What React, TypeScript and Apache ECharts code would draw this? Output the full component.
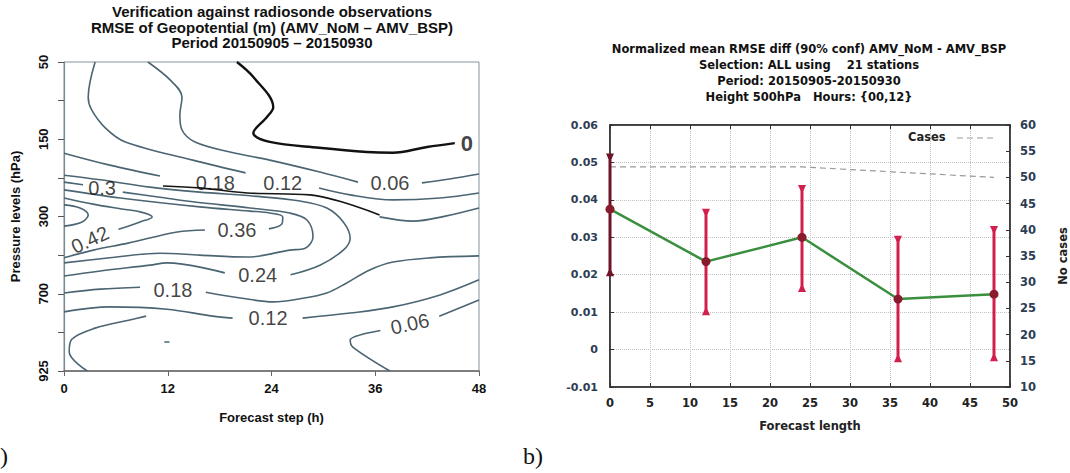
import React, { useEffect, useRef } from 'react';
import * as echarts from 'echarts';

// ---------- Left panel: contour lines (x = forecast step h, y = level index 0..8) ----------
const stepTicks = [0, 12, 24, 36, 48];
const pressureTicks = ['50', '150', '300', '700', '925'];

const c000 = [
  [[20.0, 0], [21.9, 0.39], [24.2, 1.17], [23.5, 1.42], [21.9, 1.84], [23.8, 2.07], [29.5, 2.22], [35.0, 2.33], [38.0, 2.35], [42.0, 2.2], [45.2, 2.1]],
];
const c006 = [
  [[9.7, 0], [12.3, 0.47], [13.65, 0.91], [13.4, 1.37], [13.65, 1.76], [15.15, 2.07], [19.2, 2.33], [23.8, 2.54], [29.6, 2.85], [34.0, 3.11]],
  [[41.4, 3.13], [44.6, 3.03], [48, 2.9]],
  [[2.7, 8], [0.6, 7.51], [0.9, 7.18], [3.6, 6.89], [7.6, 6.68], [9.5, 6.58]],
  [[37.7, 8], [33.4, 7.38], [33.1, 7.2], [36.6, 6.95]],
  [[43.4, 6.58], [48, 6.16]],
  [[11.6, 7.25], [12.2, 7.25]],
];
const c012 = [
  [[3.6, 0], [2.8, 0.91], [3.2, 1.24], [4.8, 1.71], [7.1, 2.07], [14.9, 2.54], [21.0, 2.87]],
  [[29.5, 3.26], [33.1, 3.44], [38.05, 3.57], [43.5, 3.52], [48, 3.39]],
  [[0, 6.47], [5.3, 6.34], [11.9, 6.4], [17.2, 6.58], [19.5, 6.63]],
  [[27.6, 6.63], [33.1, 6.5], [38.05, 6.34], [43.5, 6.03], [48, 5.64]],
];
const c018 = [
  [[0, 2.36], [5.3, 2.67], [11.1, 2.95]],
  [[36.5, 4.01], [40.4, 4.12], [44.1, 3.99], [48, 3.78]],
  [[0, 5.98], [4.2, 5.88], [8.8, 5.83]],
  [[16.4, 5.96], [20.4, 6.11], [24.2, 6.21], [27.3, 6.13], [30.4, 5.98], [32.7, 5.72], [35.3, 5.39], [38.05, 5.18], [42.3, 5.07], [48, 5.02]],
];
const c018Dark = [
  [[11.45, 3.21], [15.7, 3.26], [21.2, 3.39], [28.45, 3.44], [36.5, 3.96]],
];
const c024 = [
  [[0, 2.93], [4.2, 3.05], [9.95, 3.24], [15.7, 3.37], [21.8, 3.47], [27.3, 3.6], [30.4, 3.78], [32.3, 4.14], [33.1, 4.56], [32.3, 4.87], [29.6, 5.26], [26.2, 5.51]],
  [[18.6, 5.46], [11.9, 5.2], [9.95, 5.26], [4.2, 5.41], [0, 5.54]],
];
const c030 = [
  [[0, 3.11], [2.2, 3.18]],
  [[6.8, 3.37], [11.1, 3.5], [14.9, 3.62], [21.5, 3.78], [26.1, 3.91], [28.1, 4.09], [28.8, 4.53], [27.9, 4.82], [26.1, 4.87], [21.2, 5.05], [15.7, 5.0], [11.1, 4.95], [5.3, 5.07], [0, 5.2]],
];
const c036 = [
  [[0, 3.31], [6.5, 3.52], [15.7, 3.75], [21.5, 3.86], [23.8, 3.91], [25.3, 4.01], [25.2, 4.19], [23.7, 4.32]],
  [[16.3, 4.35], [13.1, 4.4], [7.4, 4.69], [3.4, 4.87], [0, 5.07]],
];
const c042 = [
  [[0, 3.52], [3.35, 3.68], [6.5, 3.8], [8.8, 3.88], [10.2, 4.01], [8.8, 4.14], [6.3, 4.33]],
];
const c048 = [
  [[0, 3.7], [1.85, 3.78], [2.8, 3.96], [2.1, 4.14], [0, 4.25]],
];

const contourLabelText = ['0', '0.06', '0.12', '0.18', '0.3', '0.36', '0.42', '0.24', '0.18', '0.12', '0.06'];
const contourLabelX = [46.6, 37.7, 25.3, 17.5, 4.4, 20.0, 3.0, 22.4, 12.6, 23.6, 40.0];
const contourLabelY = [2.1, 3.13, 3.13, 3.13, 3.26, 4.35, 4.6, 5.51, 5.9, 6.63, 6.78];

// ---------- Right panel ----------
const lengthTicks = [0, 5, 10, 15, 20, 25, 30, 35, 40, 45, 50];
const forecastLength = [0, 12, 24, 36, 48];
const rmseDiff = [0.0375, 0.0235, 0.03, 0.0135, 0.0148];
const ciLow = [0.02, 0.0096, 0.0158, -0.003, -0.0027];
const ciHigh = [0.052, 0.0372, 0.0436, 0.03, 0.0326];
const cases = [52, 52, 52, 51, 50];

const leftTitle = 'Verification against radiosonde observations\nRMSE of Geopotential (m) (AMV_NoM \u2013 AMV_BSP)\nPeriod 20150905 \u2013 20150930';
const rightTitle = 'Normalized mean RMSE diff (90% conf) AMV_NoM - AMV_BSP\nSelection: ALL using    21 stations\nPeriod: 20150905-20150930\nHeight 500hPa   Hours: {00,12}';

const CONTOUR = '#4b6573';
const SANS = '"Liberation Sans", Arial, sans-serif';
const DJ = '"DejaVu Sans", sans-serif';
const NAVY = '#2d3d54';

function contourSeries(segs: number[][][], color: string, width: number) {
  return segs.map((seg) => ({
    type: 'line',
    xAxisIndex: 0,
    yAxisIndex: 0,
    data: seg,
    symbol: 'none',
    showSymbol: false,
    smooth: 0.35,
    silent: true,
    lineStyle: { color, width },
    z: 3,
  }));
}

export default function App() {
  const ref = useRef<HTMLDivElement>(null);
  useEffect(() => {
    document.body.style.margin = '0';
    const chart = echarts.init(ref.current!, null, { renderer: 'svg' });
    const rot: Record<number, number> = { 6: 25, 10: 12 };
    const option: any = {
      animation: false,
      backgroundColor: '#fff',
      grid: [
        { left: 64, top: 62, width: 415, height: 309, show: true, borderColor: '#8494a0', borderWidth: 1 },
        { left: 610, top: 125, width: 400, height: 262, show: true, borderColor: '#333', borderWidth: 1.5 },
      ],
      xAxis: [
        {
          gridIndex: 0, type: 'value', min: 0, max: 48, interval: 12,
          axisLine: { show: true, onZero: false, lineStyle: { color: '#666', width: 1.5 } },
          axisTick: { show: true, length: 5, lineStyle: { color: '#666' } },
          axisLabel: { color: '#111', fontSize: 13, fontWeight: 'bold', fontFamily: SANS, margin: 11,
            formatter: (v: number) => (stepTicks.includes(v) ? String(v) : '') },
          splitLine: { show: false },
          name: 'Forecast step (h)', nameLocation: 'middle', nameGap: 40,
          nameTextStyle: { color: '#111', fontSize: 13, fontWeight: 'bold', fontFamily: SANS },
        },
        {
          gridIndex: 1, type: 'value', min: 0, max: 50, interval: 5,
          axisLine: { show: true, onZero: false, lineStyle: { color: '#333', width: 1.5 } },
          axisTick: { show: true, inside: true, length: 4, lineStyle: { color: '#333' } },
          axisLabel: { color: '#222', fontSize: 11.5, fontWeight: 'bold', fontFamily: DJ, margin: 10,
            formatter: (v: number) => (lengthTicks.includes(v) ? String(v) : '') },
          splitLine: { show: true, lineStyle: { type: 'dotted', color: '#c2c2c2' } },
          name: 'Forecast length', nameLocation: 'middle', nameGap: 33,
          nameTextStyle: { color: '#222', fontSize: 11.5, fontWeight: 'bold', fontFamily: DJ },
        },
        {
          gridIndex: 1, type: 'value', position: 'top', min: 0, max: 50, interval: 5,
          axisLine: { show: true, onZero: false, lineStyle: { color: '#333', width: 1.5 } },
          axisTick: { show: true, inside: true, length: 4, lineStyle: { color: '#333' } },
          axisLabel: { show: false }, splitLine: { show: false },
        },
      ],
      yAxis: [
        {
          gridIndex: 0, type: 'value', min: 0, max: 8, interval: 1, inverse: true,
          axisLine: { show: true, onZero: false, lineStyle: { color: '#7b8b96', width: 1.2 } },
          axisTick: { show: true, length: 6, lineStyle: { color: '#555' } },
          axisLabel: { rotate: 90, color: '#111', fontSize: 13, fontWeight: 'bold', fontFamily: SANS, margin: 14,
            formatter: (v: number) => (v % 2 === 0 ? pressureTicks[v / 2] : '') },
          splitLine: { show: false },
          name: 'Pressure levels (hPa)', nameLocation: 'middle', nameGap: 42, nameRotate: 90,
          nameTextStyle: { color: '#111', fontSize: 13, fontWeight: 'bold', fontFamily: SANS },
        },
        {
          gridIndex: 1, type: 'value', min: -0.01, max: 0.06, interval: 0.01,
          axisLine: { show: true, onZero: false, lineStyle: { color: '#333', width: 1.5 } },
          axisTick: { show: true, inside: true, length: 4, lineStyle: { color: '#333' } },
          axisLabel: { color: NAVY, fontSize: 11, fontWeight: 'bold', fontFamily: DJ, margin: 12,
            formatter: (v: number) => String(Math.round(v * 100) / 100) },
          splitLine: { show: true, lineStyle: { type: 'dotted', color: '#c2c2c2' } },
        },
        {
          gridIndex: 1, type: 'value', position: 'right', min: 10, max: 60, interval: 5,
          axisLine: { show: true, onZero: false, lineStyle: { color: '#333', width: 1.5 } },
          axisTick: { show: true, inside: true, length: 4, lineStyle: { color: '#333' } },
          axisLabel: { color: NAVY, fontSize: 11.5, fontWeight: 'bold', fontFamily: DJ, margin: 10 },
          splitLine: { show: false },
          name: 'No cases', nameLocation: 'middle', nameGap: 47, nameRotate: 90,
          nameTextStyle: { color: '#222', fontSize: 11.5, fontWeight: 'bold', fontFamily: DJ },
        },
      ],
      graphic: [
        { type: 'text', x: 272, y: 4, style: { text: leftTitle, align: 'center', textAlign: 'center', verticalAlign: 'top', textVerticalAlign: 'top', fontSize: 15, fontWeight: 'bold', fontFamily: SANS, lineHeight: 15.5, fill: '#111' } },
        { type: 'text', x: 809, y: 41, style: { text: rightTitle, align: 'center', textAlign: 'center', verticalAlign: 'top', textVerticalAlign: 'top', fontSize: 11.5, fontWeight: 'bold', fontFamily: DJ, lineHeight: 16, fill: '#111' } },
        { type: 'text', x: 908, y: 131, style: { text: 'Cases', fontSize: 11.5, fontWeight: 'bold', fontFamily: DJ, fill: '#222' } },
        { type: 'line', shape: { x1: 957, y1: 138, x2: 996, y2: 138 }, style: { stroke: '#9a9a9a', lineWidth: 1.2, lineDash: [6, 4] } },
        { type: 'text', x: 0, y: 444, style: { text: ')', fontSize: 24, fontFamily: '"Liberation Serif", serif', fill: '#111' } },
        { type: 'text', x: 523, y: 444, style: { text: 'b)', fontSize: 24, fontFamily: '"Liberation Serif", serif', fill: '#111' } },
      ],
      series: [
        ...contourSeries(c000, '#111', 2.4),
        ...contourSeries(c006, CONTOUR, 1.6),
        ...contourSeries(c012, CONTOUR, 1.6),
        ...contourSeries(c018, CONTOUR, 1.6),
        ...contourSeries(c018Dark, '#151515', 1.6),
        ...contourSeries(c024, CONTOUR, 1.6),
        ...contourSeries(c030, CONTOUR, 1.6),
        ...contourSeries(c036, CONTOUR, 1.6),
        ...contourSeries(c042, CONTOUR, 1.6),
        ...contourSeries(c048, CONTOUR, 1.6),
        {
          type: 'scatter', xAxisIndex: 0, yAxisIndex: 0, symbolSize: 1, silent: true, z: 5,
          itemStyle: { color: 'rgba(0,0,0,0)' },
          data: contourLabelText.map((t, i) => ({
            value: [contourLabelX[i], contourLabelY[i]], name: t,
            label: i === 0 ? { fontSize: 22, fontWeight: 'bold' } : { rotate: rot[i] || 0 },
          })),
          label: { show: true, position: 'inside', formatter: '{b}', fontSize: 20, color: '#111', fontFamily: SANS },
        },
        {
          type: 'line', name: 'Cases', xAxisIndex: 1, yAxisIndex: 2,
          data: forecastLength.map((x, i) => [x, cases[i]]),
          symbol: 'none', showSymbol: false,
          lineStyle: { color: '#9a9a9a', width: 1.2, type: [6, 4] },
          itemStyle: { color: '#9a9a9a' }, z: 2,
        },
        {
          type: 'custom', xAxisIndex: 1, yAxisIndex: 1, z: 3,
          data: forecastLength.map((x, i) => [x, ciLow[i], ciHigh[i]]),
          renderItem: (params: any, api: any) => {
            const lo = api.coord([api.value(0), api.value(1)]);
            const hi = api.coord([api.value(0), api.value(2)]);
            const c = params.dataIndex === 0 ? '#6e1426' : '#d21f4d';
            return {
              type: 'group',
              children: [
                { type: 'line', shape: { x1: lo[0], y1: lo[1], x2: hi[0], y2: hi[1] }, style: { stroke: c, lineWidth: 3 } },
                { type: 'polygon', shape: { points: [[hi[0] - 4, hi[1] - 1.5], [hi[0] + 4, hi[1] - 1.5], [hi[0] + 1.5, hi[1] + 4], [hi[0] - 1.5, hi[1] + 4]] }, style: { fill: c } },
                { type: 'polygon', shape: { points: [[lo[0] - 4, lo[1] + 1.5], [lo[0] + 4, lo[1] + 1.5], [lo[0] + 1.5, lo[1] - 4], [lo[0] - 1.5, lo[1] - 4]] }, style: { fill: c } },
              ],
            };
          },
        },
        {
          type: 'line', xAxisIndex: 1, yAxisIndex: 1, z: 4,
          data: forecastLength.map((x, i) => [x, rmseDiff[i]]),
          symbol: 'circle', symbolSize: 9,
          itemStyle: { color: '#8a1b2d' },
          lineStyle: { color: '#3a8f3f', width: 2.5 },
        },
      ],
    };
    chart.setOption(option);
    return () => chart.dispose();
  }, []);
  return <div ref={ref} style={{ width: 1070, height: 473 }} />;
}
